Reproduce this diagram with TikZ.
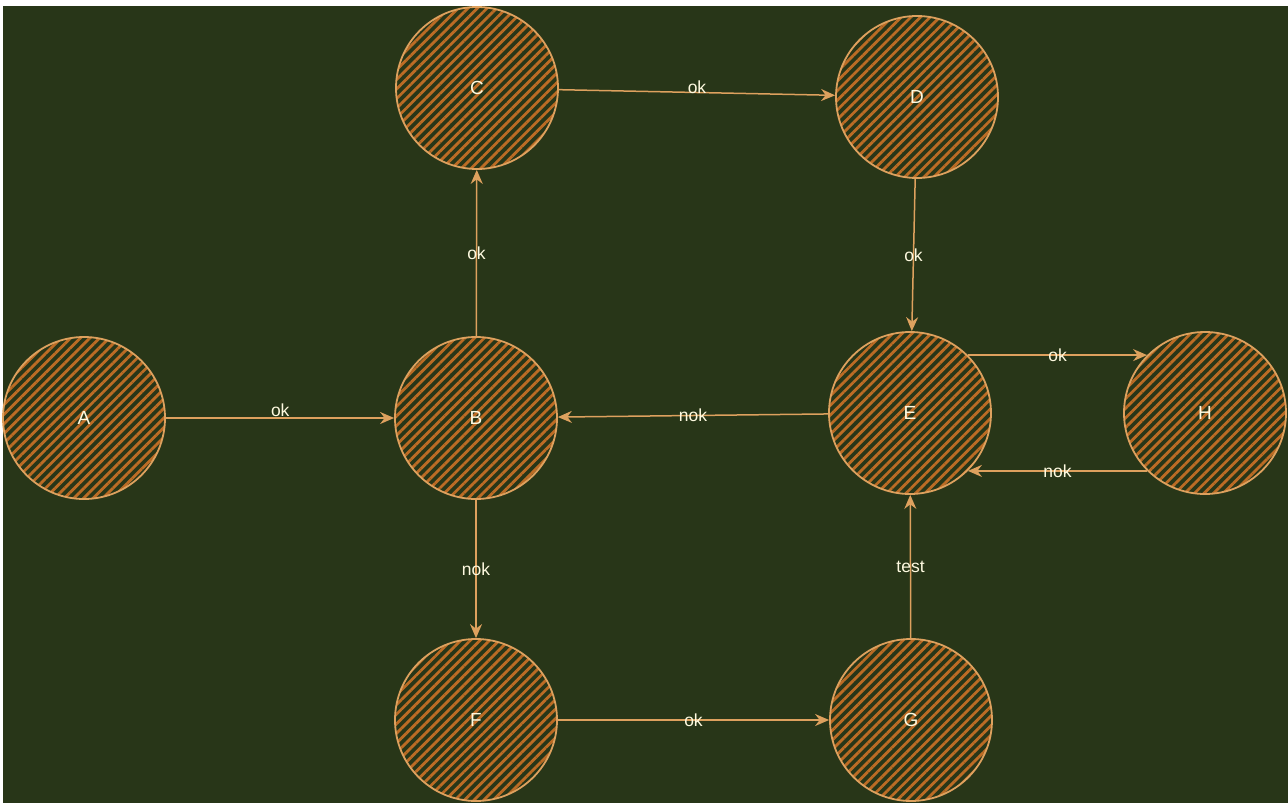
\documentclass[tikz,border=0pt]{standalone}
\usepackage{fontspec}
\setsansfont{Liberation Sans}
\usepackage{tikz}
\usetikzlibrary{positioning, arrows.meta, patterns.meta}
\definecolor{bgdark}{HTML}{283618}
\definecolor{strokeTan}{HTML}{DDA15E}
\definecolor{hatchBrown}{HTML}{BC6C25}
\definecolor{textCream}{HTML}{FEFAE0}

\begin{document}
\begin{tikzpicture}[
  x=1pt, y=-1pt,
  state/.style = {circle, draw=strokeTan, line width=1.8pt, minimum size=162pt,
                  inner sep=0pt, text=textCream,
                  font=\sffamily\fontsize{19}{19}\selectfont,
                  pattern={Lines[angle=45, distance=6.8pt, line width=2.8pt]},
                  pattern color=hatchBrown},
  edge/.style   = {draw=strokeTan, line width=1.5pt,
                   -{Stealth[length=14pt, width=12pt]}},
  lbl/.style    = {text=textCream, font=\sffamily\fontsize{17.5}{17.5}\selectfont,
                   inner sep=1pt}
]
% canvas
\useasboundingbox (0,0) rectangle (1288,803);
\fill[bgdark] (3,6) rectangle (1288,803);
% States
\node[state] (A) at (84,418)  {A};
\node[state] (B) at (476,418) {B};
\node[state] (C) at (477,88)  {C};
\node[state] (D) at (917,97)  {D};
\node[state] (E) at (910,413) {E};
\node[state] (H) at (1205,413) {H};
\node[state] (F) at (476,720) {F};
\node[state] (G) at (911,720) {G};
% Transitions
\draw[edge] (A) -- node[lbl, above] {ok} (B);
\draw[edge] (B) -- node[lbl] {ok} (C);
\draw[edge] (C) -- node[lbl, above=-3pt] {ok} (D);
\draw[edge] (D) -- node[lbl] {ok} (E);
\draw[edge] (E) -- node[lbl] {nok} (B);
\draw[edge] (E.45) -- node[lbl] {ok} (H.135);
\draw[edge] (H.-135) -- node[lbl] {nok} (E.-45);
\draw[edge] (B) -- node[lbl] {nok} (F);
\draw[edge] (F) -- node[lbl] {ok} (G);
\draw[edge] (G) -- node[lbl] {test} (E);
\end{tikzpicture}
\end{document}
